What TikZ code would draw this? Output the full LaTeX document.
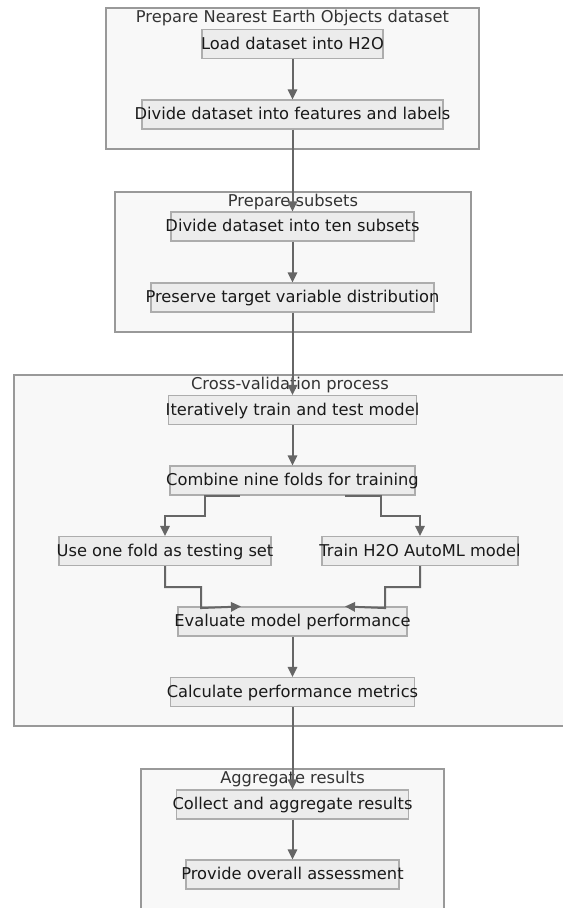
\documentclass[tikz,border=0pt]{standalone}
\usepackage{fontspec}
\setmainfont{DejaVu Sans}
\usetikzlibrary{arrows.meta, calc}
\usepackage{xcolor}
\definecolor{flowedge}{HTML}{666666}
\definecolor{flowbox}{HTML}{ECECEC}
\definecolor{flowline}{HTML}{ADADAD}
\definecolor{grpfill}{HTML}{F8F8F8}
\definecolor{grpline}{HTML}{999999}
\newcommand{\wide}[1]{\makebox[0pt]{#1}}

\tikzset{
  grp/.style={fill=grpfill, draw=grpline, line width=1.1pt},
  grptitle/.style={anchor=base, text=black!80, font=\fontsize{12.2}{14}\selectfont},
  stepbox/.style={draw=flowline, fill=flowbox, line width=0.8pt,
    minimum width=#1*0.75pt, minimum height=29*0.75pt, inner sep=0pt,
    text height=0.76em, text depth=0pt, text=black!90,
    font=\fontsize{12.2}{14}\selectfont},
  flow/.style={draw=flowedge, line width=1.5pt,
    -{Triangle[length=7.5pt, width=7pt]}},
}

\begin{document}
\begin{tikzpicture}[x=0.75pt, y=-0.75pt]
  \useasboundingbox (0,0) rectangle (563,908);
  \clip (0,0) rectangle (563,908);

  % Prepare dataset
  \draw[grp] (106,8) rectangle (479,149);
  \node[grptitle] (tdata) at (292.5,22) {Prepare Nearest Earth Objects dataset};
  \node[stepbox=181] (load) at (292.5,44) {\wide{Load dataset into H2O}};
  \node[stepbox=301] (feat) at (292.5,114.5) {\wide{Divide dataset into features and labels}};

  % Prepare subsets
  \draw[grp] (115,192) rectangle (471,332);
  \node[grptitle] (tsub) at (293,206) {Prepare subsets};
  \node[stepbox=243] (ten) at (292.5,226.5) {\wide{Divide dataset into ten subsets}};
  \node[stepbox=283] (pres) at (292.5,297.5) {\wide{Preserve target variable distribution}};

  % Cross-validation
  \draw[grp] (14,375) rectangle (572,726);
  \node[grptitle] (tcv) at (290,389) {Cross-validation process};
  \node[stepbox=248] (iter) at (292.5,410) {\wide{Iteratively train and test model}};
  \node[stepbox=245] (comb) at (292.5,480.5) {\wide{Combine nine folds for training}};
  \node[stepbox=212] (usef) at (165,551) {\wide{Use one fold as testing set}};
  \node[stepbox=196] (train) at (420,551) {\wide{Train H2O AutoML model}};
  \node[stepbox=229] (eval) at (292.5,621.5) {\wide{Evaluate model performance}};
  \node[stepbox=244] (calc) at (292.5,692) {\wide{Calculate performance metrics}};

  % Aggregate
  \draw[grp] (141,769) rectangle (444,920);
  \node[grptitle] (tagg) at (292.5,783) {Aggregate results};
  \node[stepbox=232] (coll) at (292.5,804.5) {\wide{Collect and aggregate results}};
  \node[stepbox=213] (prov) at (292.5,874.5) {\wide{Provide overall assessment}};

  % Edges
  \draw[flow] (load) -- (feat);
  \draw[flow] (feat) -- (ten);
  \draw[flow] (ten) -- (pres);
  \draw[flow] (pres) -- (iter);
  \draw[flow] (iter) -- (comb);
  \draw[flow] ($(comb.south)+(-52.5,0)$) -- ++(-35,0) -- ++(0,20) -| (usef.north);
  \draw[flow] ($(comb.south)+(52.5,0)$) -- ++(36,0) -- ++(0,20) -| (train.north);
  \draw[flow] (usef.south) -- ++(0,21) -- ++(36,0) -- ++(0,21)
    -- ($(eval.north)+(-51.5,0)$);
  \draw[flow] (train.south) -- ++(0,21) -- ++(-35,0) -- ++(0,21)
    -- ($(eval.north)+(52.5,0)$);
  \draw[flow] (eval) -- (calc);
  \draw[flow] (calc) -- (coll);
  \draw[flow] (coll) -- (prov);
\end{tikzpicture}
\end{document}
